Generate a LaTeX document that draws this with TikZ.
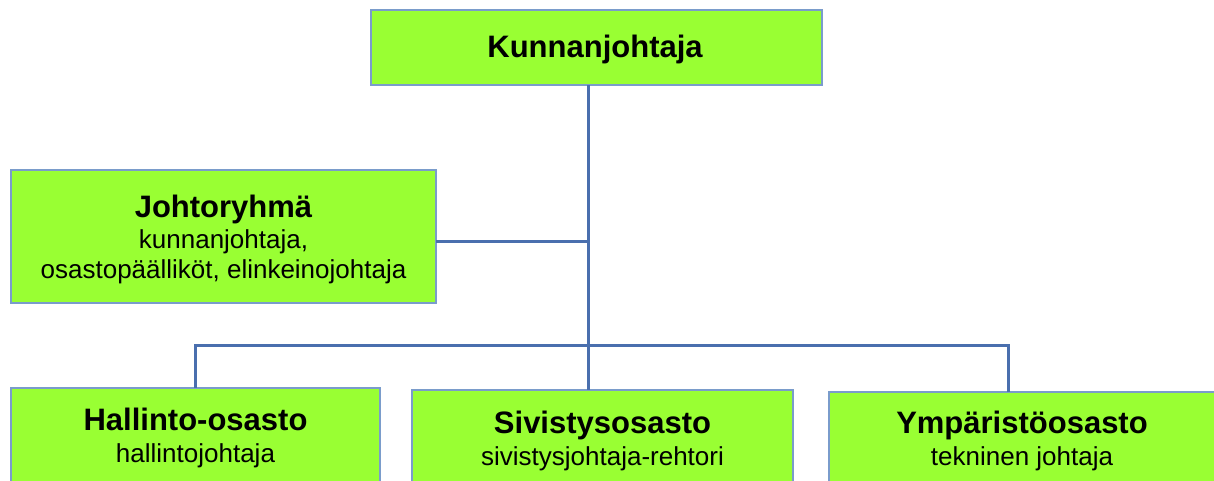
\documentclass[tikz,border=0pt]{standalone}
\usepackage{fontspec}
\setmainfont{Liberation Sans}
\usetikzlibrary{calc}
\definecolor{boxgreen}{HTML}{99FF33}
\definecolor{boxedge}{HTML}{7A9CCB}
\definecolor{conncol}{HTML}{4A6FAE}
\begin{document}
\begin{tikzpicture}[x=1pt,y=-1pt,
  box/.style={draw=boxedge,line width=1.5pt,fill=boxgreen,rectangle,inner sep=0pt,outer sep=0pt},
  ttl/.style={font=\fontsize{31}{36}\selectfont\bfseries,anchor=base,inner sep=0pt},
  sub/.style={font=\fontsize{26}{30}\selectfont,anchor=base,inner sep=0pt},
  conn/.style={draw=conncol,line width=3pt}]
\path[use as bounding box] (0,0) rectangle (1214,480);
\clip (0,0) rectangle (1214,480);
% boxes
\node[box,minimum width=451pt,minimum height=75pt] (top) at (596.5,47.5) {};
\node[box,minimum width=425pt,minimum height=133pt] (johto) at (223.5,236.5) {};
\node[box,minimum width=369pt,minimum height=132pt] (hal) at (195.5,454) {};
\node[box,minimum width=381pt,minimum height=130pt] (siv) at (602.5,455) {};
\node[box,minimum width=387pt,minimum height=128pt] (ymp) at (1022.5,456) {};
% junctions
\coordinate (bus) at (588,345);
\coordinate (jj) at (588,241);
\coordinate (yd) at (1008,345);
% connectors
\draw[conn] (top.south -| bus) -- (siv.north -| bus);
\draw[conn] (johto.east |- jj) -- (jj);
\draw[conn] (hal.north) |- (yd) -- (ymp.north -| yd);
% texts
\node[ttl] (toptxt) at (595,57) {Kunnanjohtaja};
\node[ttl] (jt1) at (223.5,217) {Johtoryhmä};
\node[sub] (jt2) at (223.5,248) {kunnanjohtaja,};
\node[sub] (jt3) at (223.5,278) {osastopäälliköt, elinkeinojohtaja};
\node[ttl] (hal1) at (195.5,430) {Hallinto-osasto};
\node[sub] (hal2) at (195.5,462) {hallintojohtaja};
\node[ttl] (siv1) at (602.5,433) {Sivistysosasto};
\node[sub] (siv2) at (602.5,465) {sivistysjohtaja-rehtori};
\node[ttl] (ymp1) at (1022,433) {Ympäristöosasto};
\node[sub] (ymp2) at (1022,465) {tekninen johtaja};
\end{tikzpicture}
\end{document}
